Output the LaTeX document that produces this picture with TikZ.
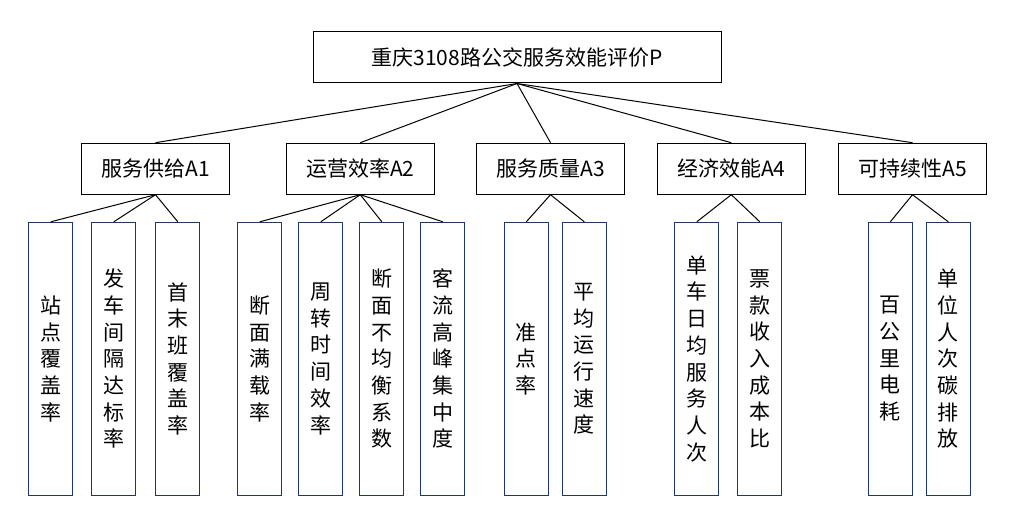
\documentclass[tikz,border=0pt]{standalone}
\usepackage{fontspec}
\setmainfont{Noto Sans CJK SC}
\usetikzlibrary{positioning}
\definecolor{leafblue}{RGB}{31,56,100}
\tikzset{
  goal/.style={draw,line width=1pt,minimum width=408pt,minimum height=51pt,inner sep=0pt},
  crit/.style={draw,line width=1pt,minimum width=148pt,minimum height=51pt,inner sep=0pt},
  leaf/.style={draw=leafblue,line width=1pt,minimum width=44pt,minimum height=273pt,inner sep=0pt,align=center},
}
\def\link#1#2{
  \draw [line width=1pt] (#1.south) -- (#2.north);
}
\begin{document}
\begin{tikzpicture}[x=1pt,y=-1pt,font=\fontsize{21pt}{26.7pt}\selectfont]
\useasboundingbox (0,0) rectangle (1022,532);
\node[goal] (P) at (517,57.5) {重庆3108路公交服务效能评价P};
\node[crit] (A1) at (155.5,168.7) {服务供给A1};
\node[crit] (A2) at (360.3,168.7) {运营效率A2};
\node[crit] (A3) at (550.5,168.7) {服务质量A3};
\node[crit] (A4) at (731.3,168.7) {经济效能A4};
\node[crit] (A5) at (912.5,168.7) {可持续性A5};
% leaves of A1
\node[leaf] (c1) at (50.8,358.8) {站\\点\\覆\\盖\\率};
\node[leaf,right=18pt of c1] (c2) {发\\车\\间\\隔\\达\\标\\率};
\node[leaf,right=19pt of c2] (c3) {首\\末\\班\\覆\\盖\\率};
% leaves of A2
\node[leaf] (c4) at (259.8,358.8) {断\\面\\满\\载\\率};
\node[leaf,right=16pt of c4] (c5) {周\\转\\时\\间\\效\\率};
\node[leaf,right=16pt of c5] (c6) {断\\面\\不\\均\\衡\\系\\数};
\node[leaf,right=16pt of c6] (c7) {客\\流\\高\\峰\\集\\中\\度};
% leaves of A3
\node[leaf] (c8) at (526.3,358.8) {准\\点\\率};
\node[leaf,right=13pt of c8] (c9) {平\\均\\运\\行\\速\\度};
% leaves of A4
\node[leaf] (c10) at (696.8,358.8) {单\\车\\日\\均\\服\\务\\人\\次};
\node[leaf,right=18pt of c10] (c11) {票\\款\\收\\入\\成\\本\\比};
% leaves of A5
\node[leaf] (c12) at (890.3,358.8) {百\\公\\里\\电\\耗};
\node[leaf,right=13pt of c12] (c13) {单\\位\\人\\次\\碳\\排\\放};
\link P {A1} \link P {A2} \link P {A3} \link P {A4} \link P {A5}
\link {A1} {c1} \link {A1} {c2} \link {A1} {c3}
\link {A2} {c4} \link {A2} {c5} \link {A2} {c6} \link {A2} {c7}
\link {A3} {c8} \link {A3} {c9}
\link {A4} {c10} \link {A4} {c11}
\link {A5} {c12} \link {A5} {c13}
\end{tikzpicture}
\end{document}
